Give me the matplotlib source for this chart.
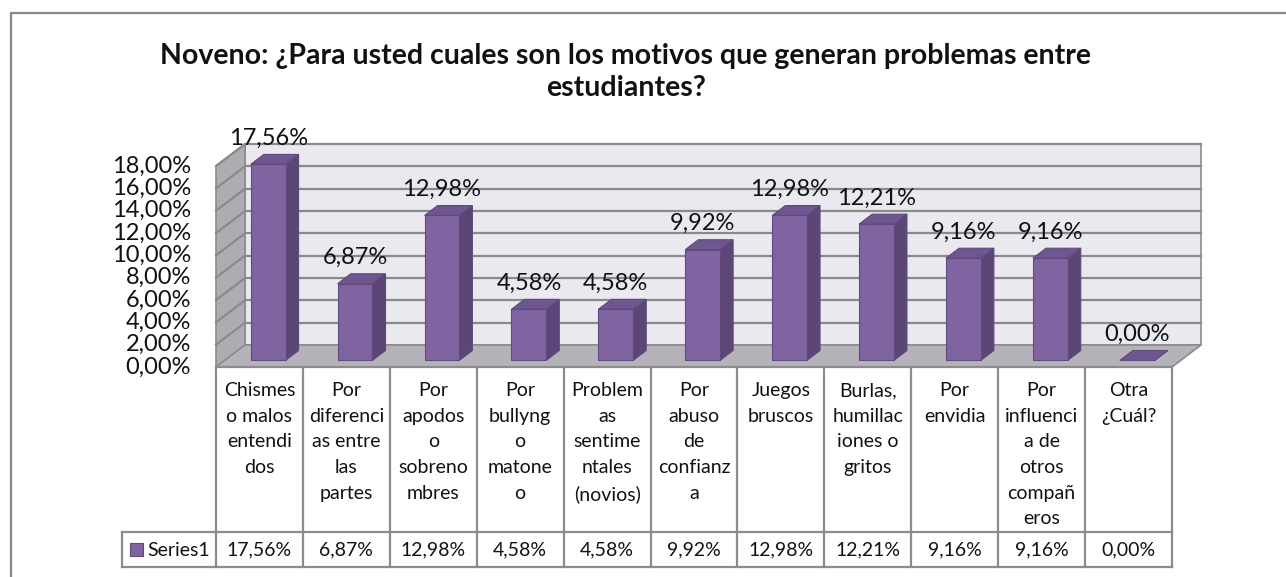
"""
Noveno: motivos que generan problemas entre estudiantes (columnas 3D estilo Excel con tabla de datos).
"""
import matplotlib
matplotlib.use("Agg")
import matplotlib.pyplot as plt
from matplotlib.patches import Polygon, Rectangle
from matplotlib.transforms import blended_transform_factory

plt.rcParams["font.family"] = ["Lato", "DejaVu Sans"]

categories = [
    "Chismes\no malos\nentendi\ndos",
    "Por\ndiferenci\nas entre\nlas\npartes",
    "Por\napodos\no\nsobreno\nmbres",
    "Por\nbullyng\no\nmatone\no",
    "Problem\nas\nsentime\nntales\n(novios)",
    "Por\nabuso\nde\nconfianz\na",
    "Juegos\nbruscos",
    "Burlas,\nhumillac\niones o\ngritos",
    "Por\nenvidia",
    "Por\ninfluenci\na de\notros\ncompañ\neros",
    "Otra\n¿Cuál?",
]
values = [17.56, 6.87, 12.98, 4.58, 4.58, 9.92, 12.98, 12.21, 9.16, 9.16, 0.00]
yticks = [0, 2, 4, 6, 8, 10, 12, 14, 16, 18]
series_name = "Series1"
title = "Noveno: ¿Para usted cuales son los motivos que generan problemas entre\nestudiantes?"


def pct(v):
    return f"{v:.2f}".replace(".", ",") + "%"


W, H = 1286, 577
fig = plt.figure(figsize=(W / 100, H / 100), dpi=100)

# front plane of the 3D box, in pixels
x0, x1 = 216, 1172
y_top, y_bot = 166, 367
ax = fig.add_axes([x0 / W, 1 - y_bot / H, (x1 - x0) / W, (y_bot - y_top) / H])
n = len(values)
ax.set_xlim(-0.5, n - 0.5)
ax.set_ylim(0, 18)
ax.set_axis_off()

# depth vector (pixels -> data units)
px_cat = (x1 - x0) / n
px_pct = (y_bot - y_top) / 18
dx = 29 / px_cat
dy = 22 / px_pct

back_col = "#EBE9F0"
side_col = "#ADADB1"
floor_col = "#B6B2BA"
grid_col = "#8A8A8A"
edge_col = "#8C8C8C"

L, R = -0.5, n - 0.5
ymax = yticks[-1]

# walls and floor
ax.add_patch(Polygon([(L + dx, dy), (R + dx, dy), (R + dx, ymax + dy), (L + dx, ymax + dy)],
                     closed=True, fc=back_col, ec=edge_col, lw=1.2, clip_on=False, zorder=1))
ax.add_patch(Polygon([(L, 0), (L + dx, dy), (L + dx, ymax + dy), (L, ymax)],
                     closed=True, fc=side_col, ec=edge_col, lw=1.2, clip_on=False, zorder=1))
ax.add_patch(Polygon([(L, 0), (R, 0), (R + dx, dy), (L + dx, dy)],
                     closed=True, fc=floor_col, ec=edge_col, lw=1.2, clip_on=False, zorder=2))

for t in yticks[1:]:
    ax.plot([L + dx, R + dx], [t + dy, t + dy], color=grid_col, lw=1.6, clip_on=False, zorder=1.5)
    ax.plot([L, L + dx], [t, t + dy], color=grid_col, lw=1.6, clip_on=False, zorder=1.5)

# tick labels along the front edge
for t in yticks:
    ax.annotate(pct(t), xy=(L, t), xytext=(-25, 0), textcoords="offset pixels",
                ha="right", va="center", fontsize=17, color="#111111", annotation_clip=False)

# bars
f0, f1 = 0.30, 0.75
bw = 0.40
front = "#8064A2"
side = "#5B4677"
top = "#6E5690"
bar_edge = "#5F4A7C"
xs = [i + f0 * dx for i in range(n)]
ax.bar(xs, values, width=bw, bottom=f0 * dy, color=front, edgecolor=bar_edge, lw=0.8,
       zorder=5, clip_on=False)
ddx = (f1 - f0) * dx
ddy = (f1 - f0) * dy
for x, v in zip(xs, values):
    b = f0 * dy
    xl, xr = x - bw / 2, x + bw / 2
    ax.add_patch(Polygon([(xr, b), (xr + ddx, b + ddy), (xr + ddx, b + v + ddy), (xr, b + v)],
                         closed=True, fc=side, ec=bar_edge, lw=0.8, clip_on=False, zorder=4))
    ax.add_patch(Polygon([(xl, b + v), (xr, b + v), (xr + ddx, b + v + ddy), (xl + ddx, b + v + ddy)],
                         closed=True, fc=top, ec=bar_edge, lw=0.8, clip_on=False, zorder=4))
    ax.annotate(pct(v), xy=(x, b + v), xytext=(0, 26), textcoords="offset pixels",
                ha="center", va="center", fontsize=17, color="#111111", annotation_clip=False)

# data table below the plot
tr = blended_transform_factory(ax.transData, fig.transFigure)
fy = lambda py: 1 - py / H
row_top, row_mid, row_bot = 367, 532, 567
line_kw = dict(color="#8C8C8C", lw=1.6, transform=tr, clip_on=False)
for ry in (row_top, row_mid, row_bot):
    ax.plot([L, R], [fy(ry), fy(ry)], **line_kw)
for i in range(n + 1):
    ax.plot([i - 0.5, i - 0.5], [fy(row_top), fy(row_bot)], **line_kw)
for i, (c, v) in enumerate(zip(categories, values)):
    ax.text(i, fy(row_top + 15), c, transform=tr, ha="center", va="top",
            fontsize=14, linespacing=1.62, color="#111111")
    ax.text(i, fy((row_mid + row_bot) / 2), pct(v), transform=tr, ha="center", va="center",
            fontsize=14, color="#111111")

# legend key cell
fig_line = dict(color="#8C8C8C", lw=1.6, transform=fig.transFigure, clip_on=False)
lx = 122
fig.add_artist(plt.Line2D([lx / W, x0 / W], [fy(row_mid), fy(row_mid)], **fig_line))
fig.add_artist(plt.Line2D([lx / W, x0 / W], [fy(row_bot), fy(row_bot)], **fig_line))
fig.add_artist(plt.Line2D([lx / W, lx / W], [fy(row_mid), fy(row_bot)], **fig_line))
fig.add_artist(Rectangle((130 / W, fy(556)), 13 / W, 13 / H, transform=fig.transFigure,
                         fc=front, ec=bar_edge, lw=0.8))
fig.text(147 / W, fy(550), series_name, ha="left", va="center", fontsize=14, color="#111111")

# outer chart frame (only left and top edges are visible)
fig.add_artist(plt.Line2D([11 / W, 11 / W, W / W], [0, fy(13), fy(13)],
                          color="#888888", lw=1.6, transform=fig.transFigure))

fig.text(626 / W, fy(72), title, ha="center", va="center", fontsize=20.5, fontweight="bold",
         linespacing=1.32, color="#111111")

fig.savefig("out.png", dpi=100)
plt.close(fig)
print("Saved: out.png")
